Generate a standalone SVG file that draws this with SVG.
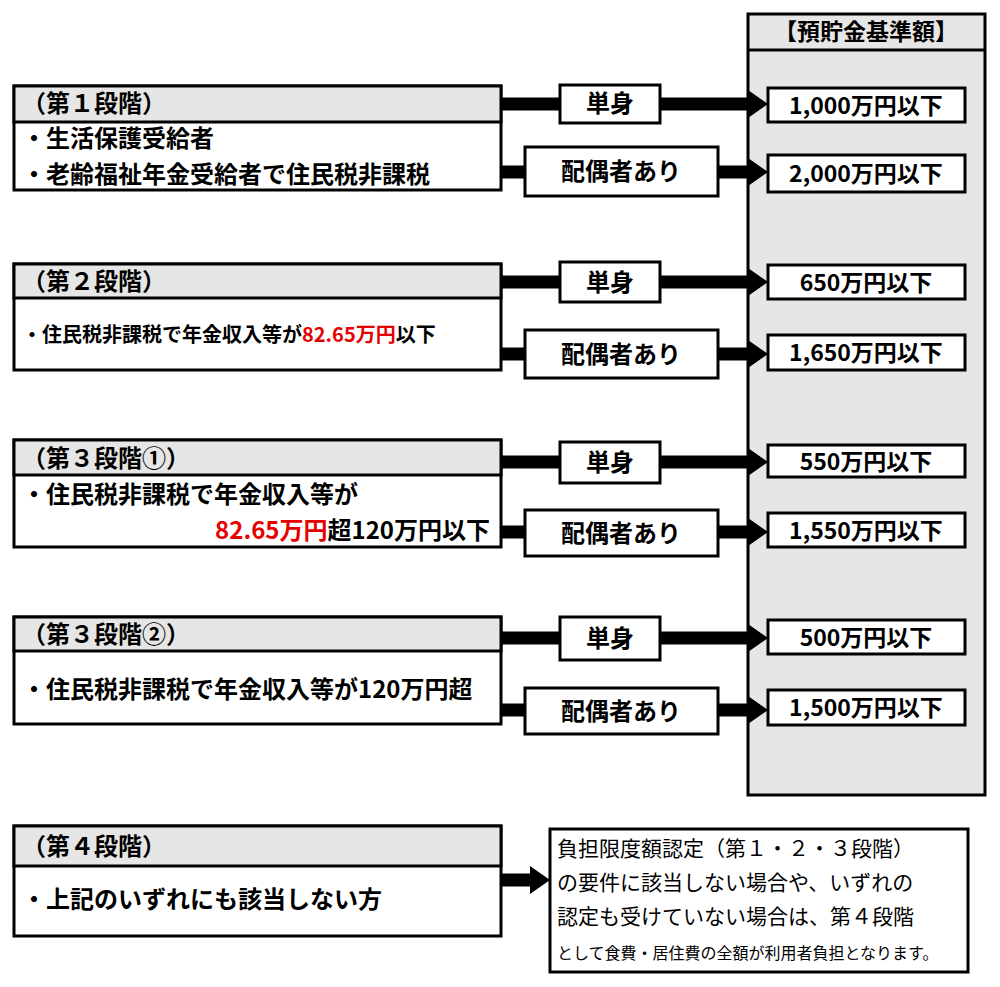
<svg xmlns="http://www.w3.org/2000/svg" width="1000" height="987" viewBox="0 0 1000 987">
<style>
text{font-family:"Noto Sans CJK JP","Noto Sans",sans-serif;fill:#000}
.b{font-weight:bold;font-size:23px}
.t{font-weight:bold;font-size:24px}
.bx{fill:#fff;stroke:#000;stroke-width:3}
.hd{fill:#e6e6e6;stroke:#000;stroke-width:3}
.ln{stroke:#000;stroke-width:13;fill:none}
.r{fill:#e60000}
.m{font-size:21px}
</style>
<g id="col"><rect x="748" y="14" width="237" height="781" class="hd"/><line x1="748" y1="50" x2="985" y2="50" stroke="#000" stroke-width="3"/><text x="866" y="40" class="b" text-anchor="middle">【預貯金基準額】</text></g>
<g id="connectors">
<path class="ln" d="M501,104H560M660,104H752M501,172H525M718,172H752M501,282H560M660,282H752M501,354H525M718,354H752M501,462H560M660,462H752M501,532H525M718,532H752M501,638H560M660,638H752M501,710H525M718,710H752M501,880H534"/>
<path d="M748,90L768,104L748,118zM748,158L768,172L748,186zM748,268L768,282L748,296zM748,340L768,354L748,368zM748,448L768,462L748,476zM748,518L768,532L748,546zM748,624L768,638L748,652zM748,696L768,710L748,724zM530,866L550,880L530,894z"/>
</g>
<g id="s1"><rect x="14" y="86" width="487" height="104" class="bx"/><rect x="14" y="86" width="487" height="36" class="hd"/>
<text x="22" y="112" class="t">（第１段階）</text><text x="22" y="147" class="t">・生活保護受給者</text><text x="22" y="183" class="t">・老齢福祉年金受給者で住民税非課税</text></g>
<g id="s2"><rect x="14" y="264" width="487" height="106" class="bx"/><rect x="14" y="264" width="487" height="34" class="hd"/>
<text x="22" y="290" class="t">（第２段階）</text><text x="22" y="342" style="font-weight:bold;font-size:20px">・住民税非課税で年金収入等が<tspan class="r">82.65万円</tspan>以下</text></g>
<g id="s3a"><rect x="14" y="440" width="487" height="107" class="bx"/><rect x="14" y="440" width="487" height="35" class="hd"/>
<text x="22" y="467" class="t">（第３段階①）</text><text x="22" y="503" class="t">・住民税非課税で年金収入等が</text><text x="490" y="539" class="t" text-anchor="end"><tspan class="r">82.65万円</tspan>超120万円以下</text></g>
<g id="s3b"><rect x="14" y="617" width="487" height="107" class="bx"/><rect x="14" y="617" width="487" height="34" class="hd"/>
<text x="22" y="643" class="t">（第３段階②）</text><text x="22" y="698" class="t">・住民税非課税で年金収入等が120万円超</text></g>
<g id="s4"><rect x="14" y="826" width="487" height="110" class="bx"/><rect x="14" y="826" width="487" height="40" class="hd"/>
<text x="22" y="855" class="t">（第４段階）</text><text x="22" y="908" class="t">・上記のいずれにも該当しない方</text></g>
<g id="single"><rect x="560" y="85" width="100" height="38" class="bx"/><text x="610" y="112" class="t" text-anchor="middle">単身</text>
<rect x="560" y="262" width="100" height="40" class="bx"/><text x="610" y="291" class="t" text-anchor="middle">単身</text>
<rect x="560" y="442" width="100" height="41" class="bx"/><text x="610" y="471" class="t" text-anchor="middle">単身</text>
<rect x="560" y="617" width="100" height="43" class="bx"/><text x="610" y="647" class="t" text-anchor="middle">単身</text></g>
<g id="spouse"><rect x="525" y="147" width="193" height="49" class="bx"/><text x="621" y="180" class="t" text-anchor="middle">配偶者あり</text>
<rect x="525" y="330" width="193" height="48" class="bx"/><text x="621" y="363" class="t" text-anchor="middle">配偶者あり</text>
<rect x="525" y="510" width="193" height="46" class="bx"/><text x="621" y="542" class="t" text-anchor="middle">配偶者あり</text>
<rect x="525" y="688" width="193" height="46" class="bx"/><text x="621" y="720" class="t" text-anchor="middle">配偶者あり</text></g>
<g id="values">
<rect x="768" y="88" width="197" height="34" class="bx"/><text x="866" y="114" class="b" text-anchor="middle">1,000万円以下</text>
<rect x="768" y="155" width="197" height="37" class="bx"/><text x="866" y="182" class="b" text-anchor="middle">2,000万円以下</text>
<rect x="768" y="265" width="197" height="34" class="bx"/><text x="866" y="291" class="b" text-anchor="middle">650万円以下</text>
<rect x="768" y="335" width="197" height="35" class="bx"/><text x="866" y="361" class="b" text-anchor="middle">1,650万円以下</text>
<rect x="768" y="445" width="197" height="32" class="bx"/><text x="866" y="470" class="b" text-anchor="middle">550万円以下</text>
<rect x="768" y="513" width="197" height="34" class="bx"/><text x="866" y="539" class="b" text-anchor="middle">1,550万円以下</text>
<rect x="768" y="620" width="197" height="34" class="bx"/><text x="866" y="646" class="b" text-anchor="middle">500万円以下</text>
<rect x="768" y="690" width="197" height="35" class="bx"/><text x="866" y="716" class="b" text-anchor="middle">1,500万円以下</text></g>
<g id="note"><rect x="550" y="829" width="418" height="143" class="bx"/>
<text x="557" y="856" class="m">負担限度額認定（第１・２・３段階）</text>
<text x="557" y="890" class="m">の要件に該当しない場合や、いずれの</text>
<text x="557" y="924" class="m">認定も受けていない場合は、第４段階</text>
<text x="557" y="959" style="font-size:16px">として食費・居住費の全額が利用者負担となります。</text></g>
</svg>
